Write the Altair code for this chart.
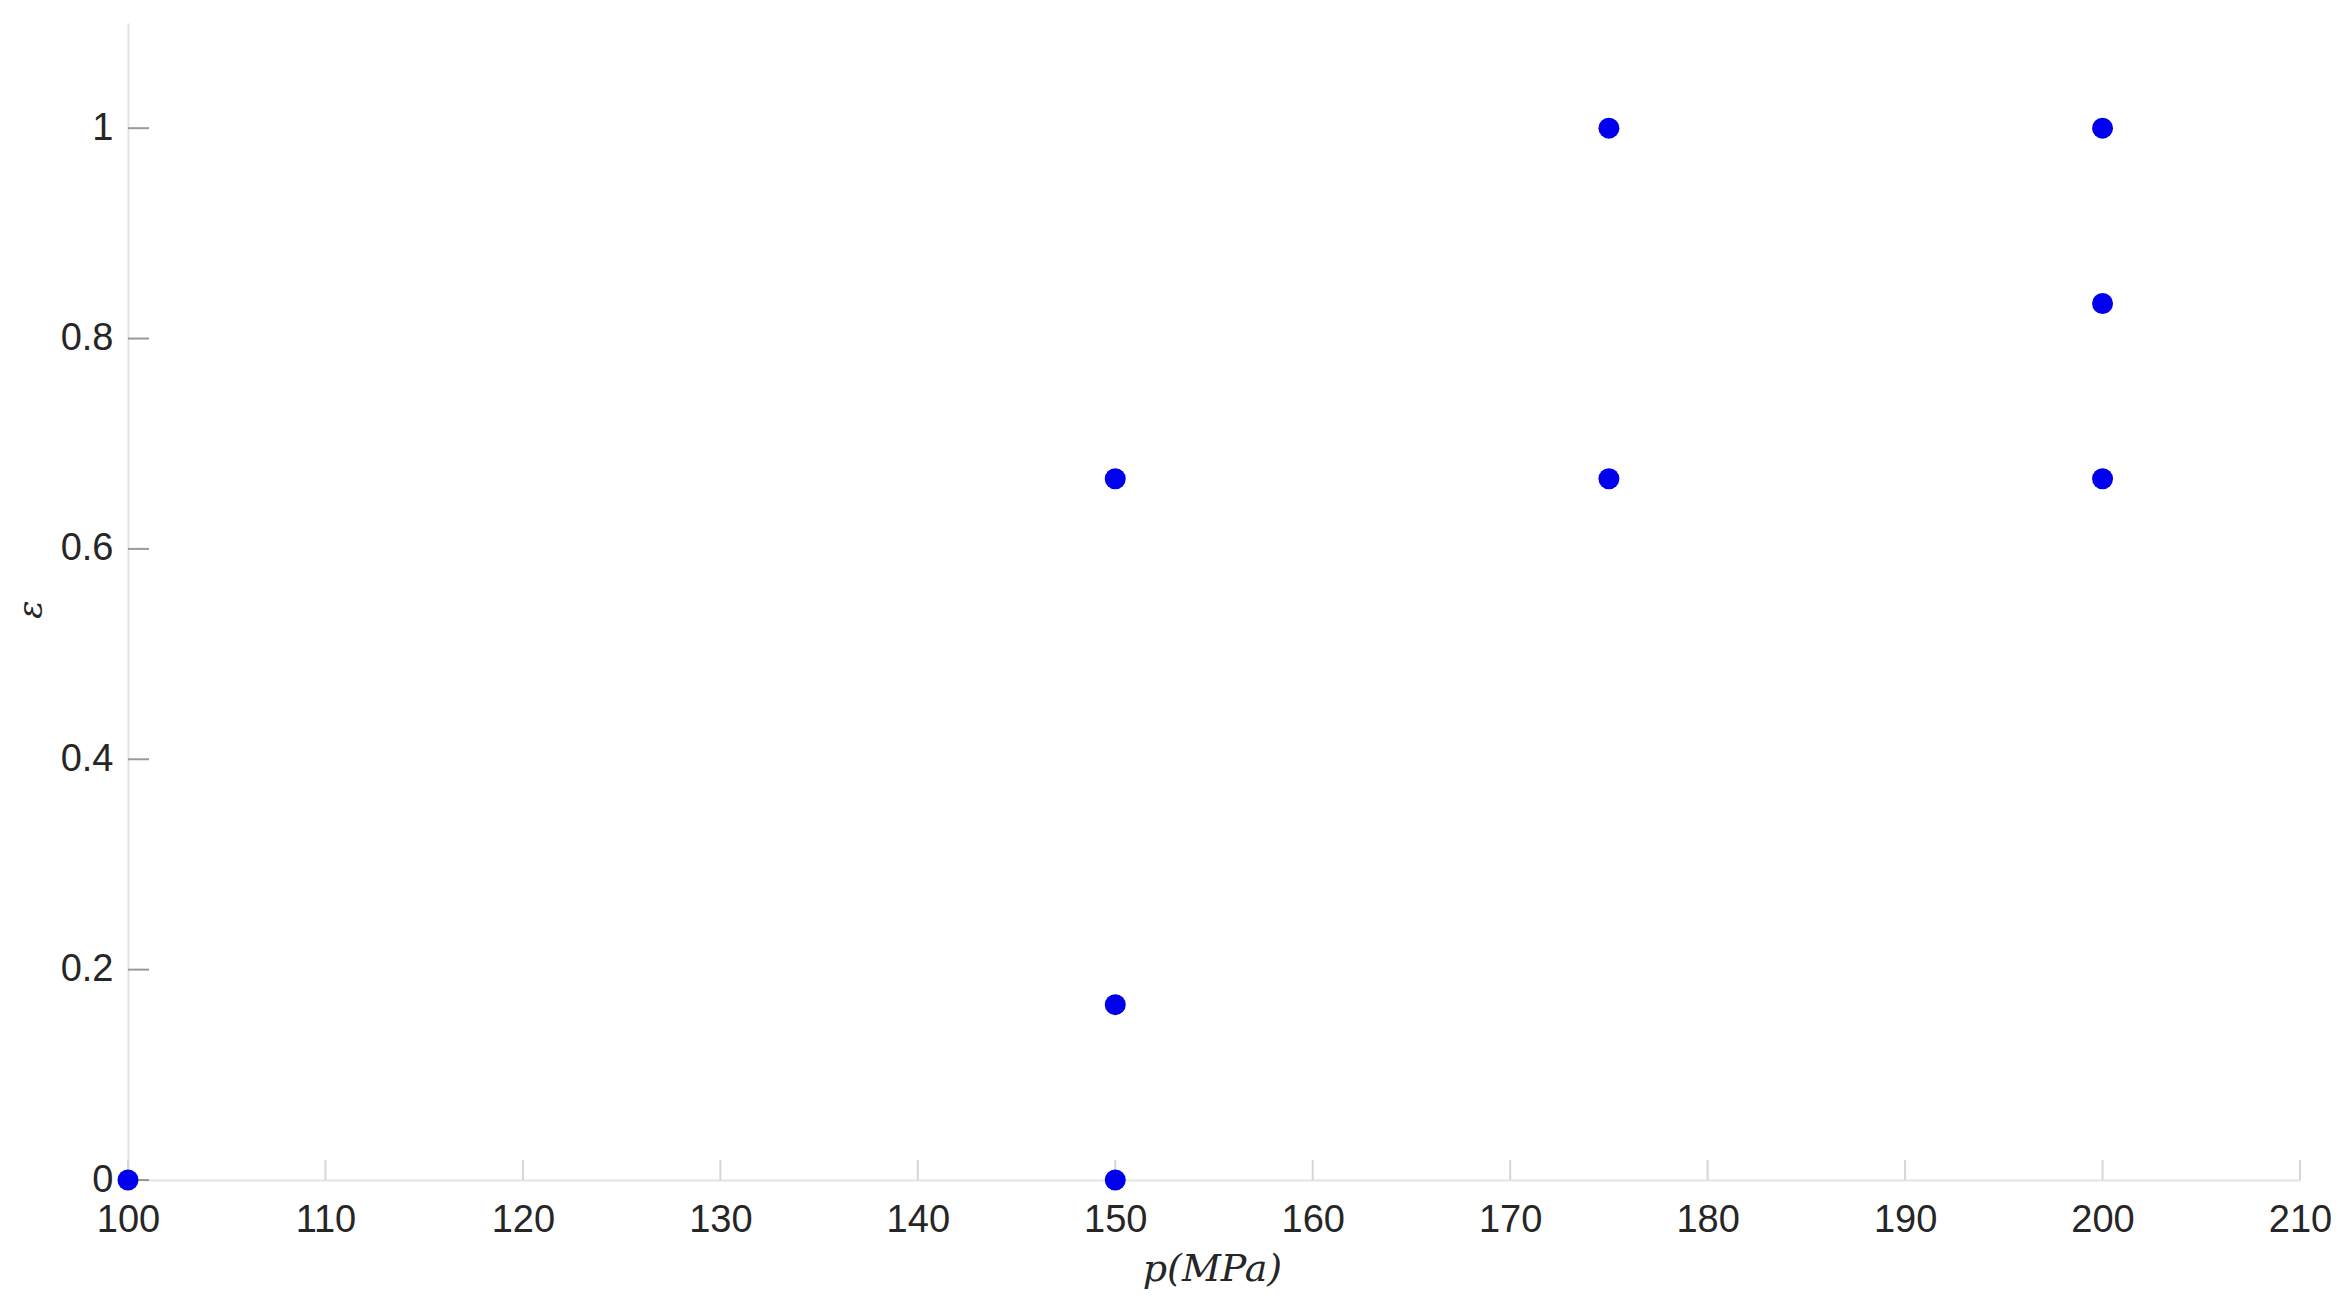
import altair as alt
import pandas as pd

p_values = [100, 150, 150, 150, 175, 175, 200, 200, 200]
eps_values = [0.0, 0.0, 1/6, 2/3, 2/3, 1.0, 2/3, 5/6, 1.0]
x_ticks = [100, 110, 120, 130, 140, 150, 160, 170, 180, 190, 200, 210]
y_ticks = [0, 0.2, 0.4, 0.6, 0.8, 1]

pts = pd.DataFrame({"p": p_values, "eps": eps_values})
xt = pd.DataFrame({"p": x_ticks})
yt = pd.DataFrame({"eps": y_ticks})

W, H = 2172, 1157
xs = alt.Scale(domain=[100, 210], nice=False, zero=False)
ys = alt.Scale(domain=[0, 1.1], nice=False, zero=False)

x_axis = alt.Axis(
    values=x_ticks, format="d", ticks=False, grid=False,
    domainColor="#e3e3e3", domainWidth=2,
    labelFont="Liberation Sans", labelFontSize=38, labelColor="#262626",
    labelPadding=21, labelFlush=False, labelOverlap=False,
    title="p(MPa)", titleFont="DejaVu Serif", titleFontStyle="italic",
    titleFontWeight="normal", titleFontSize=38, titleColor="#262626",
    titleX=1084, titleY=89, titleBaseline="middle", titleAlign="center")
y_axis = alt.Axis(
    values=y_ticks, format="~g", ticks=False, grid=False,
    domainColor="#e3e3e3", domainWidth=2,
    labelFont="Liberation Sans", labelFontSize=38, labelColor="#262626",
    labelPadding=15, labelFlush=False, labelOverlap=False,
    title="ε", titleFont="DejaVu Serif", titleFontStyle="italic",
    titleFontWeight="normal", titleFontSize=34, titleColor="#262626",
    titleX=-97, titleY=586, titleBaseline="middle", titleAlign="center",
    titleAngle=270)

xtick_rules = alt.Chart(xt).mark_rule(color="#d6d6d6", strokeWidth=2).encode(
    x=alt.X("p:Q", scale=xs, axis=x_axis),
    y=alt.value(H),
    y2=alt.value(H - 20),
)

ytick_rules = alt.Chart(yt).mark_rule(color="#9a9a9a", strokeWidth=2).encode(
    y=alt.Y("eps:Q", scale=ys, axis=y_axis),
    x=alt.value(0),
    x2=alt.value(21),
)

points = alt.Chart(pts).mark_circle(size=440, color="#0000ee", opacity=1).encode(
    x=alt.X("p:Q", scale=xs, axis=x_axis),
    y=alt.Y("eps:Q", scale=ys, axis=y_axis),
)

chart = alt.layer(xtick_rules, ytick_rules, points).properties(
    width=W, height=H,
    autosize=alt.AutoSizeParams(type="none"),
    padding={"left": 120, "top": 15, "right": 36, "bottom": 122},
    background="white",
).configure_view(stroke=None)

chart.save("out.html", embed_options={"renderer": "svg", "actions": False})
